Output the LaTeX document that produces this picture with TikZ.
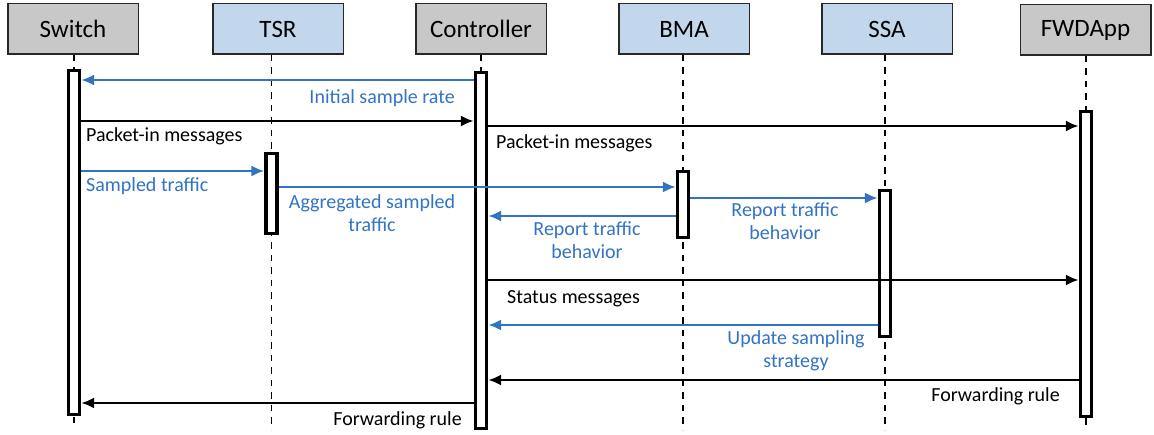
\documentclass[tikz,border=0pt]{standalone}
\usepackage{fontspec}
\setmainfont{Carlito}
\usetikzlibrary{arrows.meta}
\definecolor{hdrgray}{RGB}{200,200,200}
\definecolor{hdrblue}{RGB}{194,214,236}
\definecolor{msgblue}{RGB}{50,115,196}
\definecolor{edgegray}{RGB}{40,40,40}
\begin{document}
\begin{tikzpicture}[x=1pt,y=-1pt,
  header/.style={draw=edgegray, line width=1.5pt, minimum width=130.5, minimum height=50.5, inner sep=0, font=\fontsize{25}{30}\selectfont},
  actbar/.style={draw=black, fill=white, line width=3.2pt, minimum width=11, inner sep=0},
  life/.style={draw=black, line width=1.1pt, dash pattern=on 6.5pt off 6pt},
  msg/.style={line width=2.8pt, -{Latex[length=13pt,width=11pt]}},
  blmsg/.style={msg, draw=msgblue},
  bkmsg/.style={msg, draw=black},
  lbl/.style={font=\fontsize{20}{23.5}\selectfont, inner sep=0},
  bllbl/.style={lbl, text=msgblue},
]
\useasboundingbox (0,0) rectangle (1154,435);

% participants
\node[header, fill=hdrgray] (sw)  at (73,29)     {Switch};
\node[header, fill=hdrblue] (tsr) at (278,29)    {TSR};
\node[header, fill=hdrgray] (ctl) at (481,29)    {Controller};
\node[header, fill=hdrblue] (bma) at (684,29)    {BMA};
\node[header, fill=hdrblue] (ssa) at (887,29)    {SSA};
\node[header, fill=hdrgray] (fwd) at (1085.5,30) {FWDApp};

% lifeline ends
\coordinate (swend)  at (74,423);
\coordinate (tsrend) at (271.5,430);
\coordinate (ctlend) at (481,428);
\coordinate (bmaend) at (683,430);
\coordinate (ssaend) at (885,430);
\coordinate (fwdend) at (1086,428);

\draw[life] (sw.south -| swend) -- (swend);
\draw[life] (tsr.south -| tsrend) -- (tsrend);
\draw[life] (ctl.south -| ctlend) -- (ctlend);
\draw[life] (bma.south -| bmaend) -- (bmaend);
\draw[life] (ssa.south -| ssaend) -- (ssaend);
\draw[life] (fwd.south -| fwdend) -- (fwdend);

% activation bars
\node[actbar, minimum height=344] (swbar)  at (74,242.5)   {};
\node[actbar, minimum height=356] (ctlbar) at (481,250.5)  {};
\node[actbar, minimum height=80]  (tsrbar) at (271.5,193.5) {};
\node[actbar, minimum height=66]  (bmabar) at (683,204.5)  {};
\node[actbar, minimum height=146] (ssabar) at (885,263.5)  {};
\node[actbar, minimum height=305] (fwdbar) at (1086,264)   {};

% messages
\draw[blmsg] (ctlbar.west |- 0,80)  -- (swbar.east |- 0,80);
\draw[bkmsg] (swbar.east |- 0,121)  -- (ctlbar.west |- 0,121);
\draw[bkmsg] (ctlbar.east |- 0,126) -- (fwdbar.west |- 0,126);
\draw[blmsg] (swbar.east |- 0,171)  -- (tsrbar.west |- 0,171);
\draw[blmsg] (tsrbar.east |- 0,187) -- (bmabar.west |- 0,187);
\draw[blmsg] (bmabar.east |- 0,198) -- (ssabar.west |- 0,198);
\draw[blmsg] (bmabar.west |- 0,216) -- (ctlbar.east |- 0,216);
\draw[bkmsg] (ctlbar.east |- 0,280) -- (fwdbar.west |- 0,280);
\draw[blmsg] (ssabar.west |- 0,325) -- (ctlbar.east |- 0,325);
\draw[bkmsg] (fwdbar.west |- 0,380) -- (ctlbar.east |- 0,380);
\draw[bkmsg] (ctlbar.west |- 0,403) -- (swbar.east |- 0,403);

% message labels (two-line labels are placed by their last baseline)
\node[bllbl, anchor=base east] (l1) at (455,104) {Initial sample rate};
\node[lbl, anchor=base west] (l2) at (86,142) {Packet-in messages};
\node[lbl, anchor=base west] (l3) at (496,149) {Packet-in messages};
\node[bllbl, anchor=base west] (l4) at (86,192) {Sampled traffic};
\node[bllbl, anchor=base, align=center] (l5) at (372,232) {Aggregated sampled\\traffic};
\node[bllbl, anchor=base, align=center] (l6) at (587,259) {Report traffic\\behavior};
\node[bllbl, anchor=base, align=center] (l7) at (785,240) {Report traffic\\behavior};
\node[lbl, anchor=base west] (l8) at (507,304) {Status messages};
\node[bllbl, anchor=base, align=center] (l9) at (796,368) {Update sampling\\strategy};
\node[lbl, anchor=base east] (l10) at (1060,402) {Forwarding rule};
\node[lbl, anchor=base east] (l11) at (462,425) {Forwarding rule};
\end{tikzpicture}
\end{document}
